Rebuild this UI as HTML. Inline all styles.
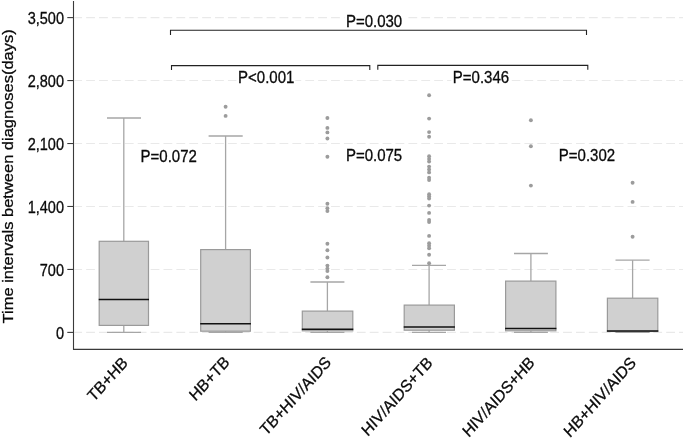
<!DOCTYPE html>
<html><head><meta charset="utf-8"><title>Boxplot</title>
<style>html,body{margin:0;padding:0;background:#fff;}body{width:685px;height:438px;overflow:hidden;}svg{display:block;filter:grayscale(1);}text{font-family:"Liberation Sans", sans-serif;fill:#0a0a0a;stroke:#0a0a0a;stroke-width:0.3px;}</style>
</head><body>
<svg width="685" height="438" viewBox="0 0 685 438">
<rect x="0" y="0" width="685" height="438" fill="#ffffff"/>
<g stroke="#e9e9e9" stroke-width="1.1" stroke-dasharray="8.8 4.09" stroke-dashoffset="1.24" fill="none">
<line x1="74.5" y1="332.40" x2="683" y2="332.40"/>
<line x1="74.5" y1="269.44" x2="683" y2="269.44"/>
<line x1="74.5" y1="206.48" x2="683" y2="206.48"/>
<line x1="74.5" y1="143.52" x2="683" y2="143.52"/>
<line x1="74.5" y1="80.56" x2="683" y2="80.56"/>
<line x1="74.5" y1="17.60" x2="683" y2="17.60"/>
</g>
<g stroke="#a6a6a6" stroke-width="1.3" fill="none">
<line x1="123.80" y1="118.00" x2="123.80" y2="241.30"/>
<line x1="123.80" y1="325.40" x2="123.80" y2="332.40"/>
<line x1="107.00" y1="118.00" x2="141.00" y2="118.00"/>
<line x1="107.00" y1="332.40" x2="141.00" y2="332.40"/>
</g>
<rect x="99.20" y="241.30" width="49.30" height="84.10" fill="#d0d0d0" stroke="#9a9a9a" stroke-width="1.2"/>
<line x1="98.70" y1="299.40" x2="149.00" y2="299.40" stroke="#111" stroke-width="1.5"/>
<g stroke="#a6a6a6" stroke-width="1.3" fill="none">
<line x1="225.60" y1="136.00" x2="225.60" y2="249.60"/>
<line x1="225.60" y1="331.20" x2="225.60" y2="332.40"/>
<line x1="208.60" y1="136.00" x2="242.70" y2="136.00"/>
<line x1="208.60" y1="332.40" x2="242.70" y2="332.40"/>
</g>
<rect x="200.70" y="249.60" width="49.70" height="81.60" fill="#d0d0d0" stroke="#9a9a9a" stroke-width="1.2"/>
<line x1="200.20" y1="323.80" x2="250.90" y2="323.80" stroke="#111" stroke-width="1.5"/>
<g fill="#9c9c9c">
<circle cx="225.60" cy="106.80" r="1.95"/>
<circle cx="225.60" cy="115.90" r="1.95"/>
</g>
<g stroke="#a6a6a6" stroke-width="1.3" fill="none">
<line x1="327.40" y1="282.00" x2="327.40" y2="311.10"/>
<line x1="327.40" y1="330.80" x2="327.40" y2="332.40"/>
<line x1="310.40" y1="282.00" x2="344.40" y2="282.00"/>
<line x1="310.40" y1="332.40" x2="344.40" y2="332.40"/>
</g>
<rect x="302.30" y="311.10" width="50.50" height="19.70" fill="#d0d0d0" stroke="#9a9a9a" stroke-width="1.2"/>
<line x1="301.80" y1="329.20" x2="353.30" y2="329.20" stroke="#111" stroke-width="1.5"/>
<g fill="#9c9c9c">
<circle cx="327.40" cy="118.00" r="1.95"/>
<circle cx="327.40" cy="127.90" r="1.95"/>
<circle cx="327.40" cy="132.40" r="1.95"/>
<circle cx="327.40" cy="138.50" r="1.95"/>
<circle cx="327.40" cy="156.80" r="1.95"/>
<circle cx="327.40" cy="203.80" r="1.95"/>
<circle cx="327.40" cy="208.20" r="1.95"/>
<circle cx="327.40" cy="211.10" r="1.95"/>
<circle cx="327.40" cy="243.80" r="1.95"/>
<circle cx="327.40" cy="250.30" r="1.95"/>
<circle cx="327.40" cy="257.50" r="1.95"/>
<circle cx="327.40" cy="265.60" r="1.95"/>
<circle cx="327.40" cy="268.60" r="1.95"/>
<circle cx="327.40" cy="271.10" r="1.95"/>
<circle cx="327.40" cy="277.20" r="1.95"/>
</g>
<g stroke="#a6a6a6" stroke-width="1.3" fill="none">
<line x1="429.10" y1="265.40" x2="429.10" y2="305.10"/>
<line x1="429.10" y1="330.20" x2="429.10" y2="332.40"/>
<line x1="412.00" y1="265.40" x2="446.00" y2="265.40"/>
<line x1="412.00" y1="332.40" x2="446.00" y2="332.40"/>
</g>
<rect x="404.20" y="305.10" width="50.20" height="25.10" fill="#d0d0d0" stroke="#9a9a9a" stroke-width="1.2"/>
<line x1="403.70" y1="326.90" x2="454.90" y2="326.90" stroke="#111" stroke-width="1.5"/>
<g fill="#9c9c9c">
<circle cx="429.10" cy="95.20" r="1.95"/>
<circle cx="429.10" cy="118.60" r="1.95"/>
<circle cx="429.10" cy="132.10" r="1.95"/>
<circle cx="429.10" cy="136.80" r="1.95"/>
<circle cx="429.10" cy="156.30" r="1.95"/>
<circle cx="429.10" cy="158.90" r="1.95"/>
<circle cx="429.10" cy="161.60" r="1.95"/>
<circle cx="429.10" cy="166.60" r="1.95"/>
<circle cx="429.10" cy="169.50" r="1.95"/>
<circle cx="429.10" cy="172.40" r="1.95"/>
<circle cx="429.10" cy="177.70" r="1.95"/>
<circle cx="429.10" cy="180.00" r="1.95"/>
<circle cx="429.10" cy="194.20" r="1.95"/>
<circle cx="429.10" cy="196.30" r="1.95"/>
<circle cx="429.10" cy="198.50" r="1.95"/>
<circle cx="429.10" cy="205.60" r="1.95"/>
<circle cx="429.10" cy="212.90" r="1.95"/>
<circle cx="429.10" cy="219.90" r="1.95"/>
<circle cx="429.10" cy="222.10" r="1.95"/>
<circle cx="429.10" cy="235.90" r="1.95"/>
<circle cx="429.10" cy="243.20" r="1.95"/>
<circle cx="429.10" cy="245.70" r="1.95"/>
<circle cx="429.10" cy="248.20" r="1.95"/>
<circle cx="429.10" cy="254.80" r="1.95"/>
<circle cx="429.10" cy="263.30" r="1.95"/>
</g>
<g stroke="#a6a6a6" stroke-width="1.3" fill="none">
<line x1="530.90" y1="253.50" x2="530.90" y2="281.10"/>
<line x1="530.90" y1="330.80" x2="530.90" y2="332.40"/>
<line x1="514.00" y1="253.50" x2="547.90" y2="253.50"/>
<line x1="514.00" y1="332.40" x2="547.90" y2="332.40"/>
</g>
<rect x="505.60" y="281.10" width="50.30" height="49.70" fill="#d0d0d0" stroke="#9a9a9a" stroke-width="1.2"/>
<line x1="505.10" y1="328.50" x2="556.40" y2="328.50" stroke="#111" stroke-width="1.5"/>
<g fill="#9c9c9c">
<circle cx="530.90" cy="120.20" r="1.95"/>
<circle cx="530.90" cy="146.30" r="1.95"/>
<circle cx="530.90" cy="185.60" r="1.95"/>
</g>
<g stroke="#a6a6a6" stroke-width="1.3" fill="none">
<line x1="632.60" y1="260.20" x2="632.60" y2="298.20"/>
<line x1="632.60" y1="331.50" x2="632.60" y2="332.40"/>
<line x1="615.50" y1="260.20" x2="649.60" y2="260.20"/>
<line x1="615.50" y1="332.40" x2="649.60" y2="332.40"/>
</g>
<rect x="607.40" y="298.20" width="50.40" height="33.30" fill="#d0d0d0" stroke="#9a9a9a" stroke-width="1.2"/>
<line x1="606.90" y1="331.00" x2="658.30" y2="331.00" stroke="#111" stroke-width="1.5"/>
<g fill="#9c9c9c">
<circle cx="632.60" cy="182.70" r="1.95"/>
<circle cx="632.60" cy="201.90" r="1.95"/>
<circle cx="632.60" cy="236.70" r="1.95"/>
</g>
<g stroke="#3a3a3a" stroke-width="1.1" fill="none">
<line x1="73.5" y1="1" x2="73.5" y2="349.7"/>
<line x1="73" y1="349.4" x2="683" y2="349.4"/>
<line x1="67.3" y1="332.40" x2="73.5" y2="332.40"/>
<line x1="67.3" y1="269.44" x2="73.5" y2="269.44"/>
<line x1="67.3" y1="206.48" x2="73.5" y2="206.48"/>
<line x1="67.3" y1="143.52" x2="73.5" y2="143.52"/>
<line x1="67.3" y1="80.56" x2="73.5" y2="80.56"/>
<line x1="67.3" y1="17.60" x2="73.5" y2="17.60"/>
</g>
<text transform="translate(64.00 338.80) scale(0.885 1)" font-size="16.4" text-anchor="end">0</text>
<text transform="translate(64.00 275.84) scale(0.885 1)" font-size="16.4" text-anchor="end">700</text>
<text transform="translate(64.00 212.88) scale(0.885 1)" font-size="16.4" text-anchor="end">1,400</text>
<text transform="translate(64.00 149.92) scale(0.885 1)" font-size="16.4" text-anchor="end">2,100</text>
<text transform="translate(64.00 86.96) scale(0.885 1)" font-size="16.4" text-anchor="end">2,800</text>
<text transform="translate(64.00 24.00) scale(0.885 1)" font-size="16.4" text-anchor="end">3,500</text>
<text transform="translate(13.0 323.4) scale(0.913 1) rotate(-90)" font-size="16.482">Time intervals between diagnoses(days)</text>
<rect x="344.40" y="13.40" width="60.50" height="16.20" fill="#fff"/>
<rect x="236.60" y="69.90" width="58.70" height="16.20" fill="#fff"/>
<rect x="451.30" y="69.40" width="60.20" height="16.20" fill="#fff"/>
<rect x="139.10" y="148.60" width="60.00" height="16.20" fill="#fff"/>
<rect x="344.40" y="147.80" width="60.30" height="16.20" fill="#fff"/>
<rect x="557.30" y="147.80" width="59.90" height="16.20" fill="#fff"/>
<g stroke="#222" stroke-width="1.1" fill="none">
<path d="M170.5 35 V30.2 H586.5 V35"/>
<path d="M171.5 70 V65.6 H369.8 V70"/>
<path d="M377.8 69.8 V65.4 H587.8 V69.8"/>
</g>
<text transform="translate(345.90 26.60) scale(0.915 1)" font-size="16.4" text-anchor="start">P=0.030</text>
<text transform="translate(238.10 83.10) scale(0.915 1)" font-size="16.4" text-anchor="start">P&lt;0.001</text>
<text transform="translate(452.80 82.60) scale(0.915 1)" font-size="16.4" text-anchor="start">P=0.346</text>
<text transform="translate(140.60 161.80) scale(0.915 1)" font-size="16.4" text-anchor="start">P=0.072</text>
<text transform="translate(345.90 161.00) scale(0.915 1)" font-size="16.4" text-anchor="start">P=0.075</text>
<text transform="translate(558.80 161.00) scale(0.915 1)" font-size="16.4" text-anchor="start">P=0.302</text>
<text transform="translate(128.60 363.70) scale(0.913 1) rotate(-45.5)" font-size="16.728" text-anchor="end">TB+HB</text>
<text transform="translate(230.30 363.10) scale(0.913 1) rotate(-45.5)" font-size="16.728" text-anchor="end">HB+TB</text>
<text transform="translate(332.00 363.40) scale(0.913 1) rotate(-45.5)" font-size="16.728" text-anchor="end">TB+HIV/AIDS</text>
<text transform="translate(433.50 363.70) scale(0.913 1) rotate(-45.5)" font-size="16.728" text-anchor="end">HIV/AIDS+TB</text>
<text transform="translate(535.50 363.60) scale(0.913 1) rotate(-45.5)" font-size="16.728" text-anchor="end">HIV/AIDS+HB</text>
<text transform="translate(636.90 363.70) scale(0.913 1) rotate(-45.5)" font-size="16.728" text-anchor="end">HB+HIV/AIDS</text>
</svg>
</body></html>
